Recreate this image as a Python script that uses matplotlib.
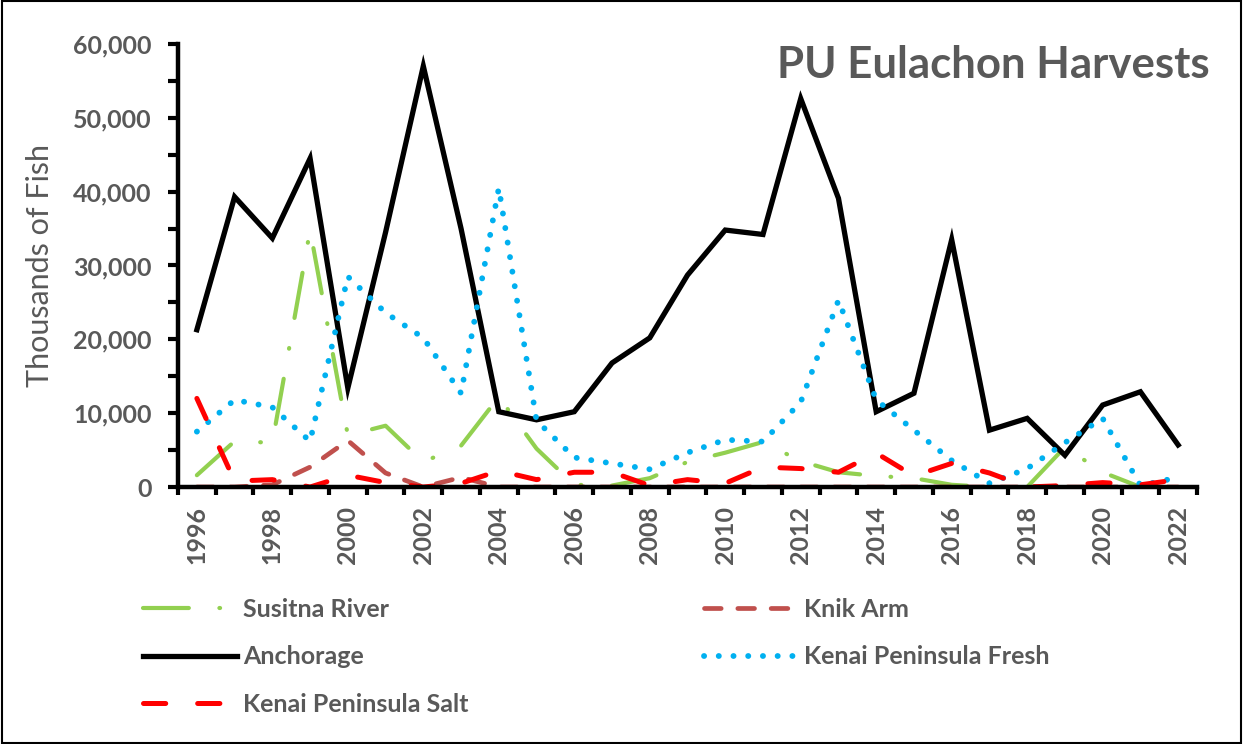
import matplotlib
matplotlib.use("Agg")
import matplotlib.pyplot as plt
import numpy as np
from matplotlib.patches import Rectangle

# data (fish, per year)
years = list(range(1996, 2023))

susitna = [1600, 6200, 6000, 34800, 7000, 8300, 3400, 5600, 12200, 5200,
           300, 200, 1200, 3400, 4650, 6100, 3500, 2000, 1500, 1200,
           300, 0, 0, 5400, 2000, 0, 0]
knik = [0, 0, 300, 2700, 6300, 1900, 0, 1300, 0, 0,
        0, 0, 0, 0, 0, 0, 0, 0, 0, 0,
        0, 0, 0, 0, 0, 0, 0]
anchorage = [21300, 39300, 33700, 44500, 13400, 34500, 57000, 35000, 10200, 9100,
             10200, 16800, 20200, 28700, 34800, 34200, 52600, 39100, 10200, 12700,
             33500, 7700, 9300, 4300, 11100, 12900, 5700]
kenai_fresh = [7500, 11800, 10800, 6200, 28500, 23600, 20200, 12700, 40500, 9000,
               4000, 3200, 2400, 4650, 6400, 6150, 11500, 25300, 11800, 7700,
               3600, 500, 2500, 6000, 9300, 200, 1300]
kenai_salt = [12000, 800, 1000, 0, 1600, 600, 0, 500, 2200, 1000,
              2000, 2000, 200, 1000, 500, 2700, 2500, 2000, 4600, 1500,
              3200, 1900, 0, 200, 600, 300, 1000]

gray = "#595959"
plt.rcParams["font.family"] = ["Lato", "DejaVu Sans"]
plt.rcParams["lines.scale_dashes"] = False

fig = plt.figure(figsize=(12.43, 7.44), dpi=100)
ax = fig.add_axes([0.1432, 0.3454, 0.8198, 0.5955])

ax.plot(years, susitna, color="#92D050", lw=3.0, dash_capstyle="round",
        dashes=(33, 22, 0.5, 22), label="Susitna River")
ax.plot(years, knik, color="#C0504D", lw=3.4, dash_capstyle="round",
        dashes=(12, 12), label="Knik Arm")
ax.plot(years, anchorage, color="black", lw=3.8, solid_joinstyle="miter",
        label="Anchorage")
ax.plot(years, kenai_fresh, color="#00B0F0", lw=4.2, dash_capstyle="round",
        dashes=(0.1, 10.5), label="Kenai Peninsula Fresh")
ax.plot(years, kenai_salt, color="#FF0000", lw=3.6, dash_capstyle="round",
        dashes=(16, 23), label="Kenai Peninsula Salt")

ax.set_xlim(1995.5, 2022.5)
ax.set_ylim(0, 60000)

for side in ["top", "right"]:
    ax.spines[side].set_visible(False)
for side in ["left", "bottom"]:
    ax.spines[side].set_linewidth(3.2)
    ax.spines[side].set_color("black")

# x: tick marks on category edges, labels on every other year
ax.set_xticks(np.arange(1995.5, 2023, 1.0))
ax.set_xticklabels([])
ax.tick_params(axis="x", which="major", direction="out", length=6, width=3, color="black")
ax.set_xticks(years[::2], minor=True)
ax.set_xticklabels([str(y) for y in years[::2]], minor=True, rotation=90,
                   fontsize=18, fontweight="bold", color=gray)
ax.tick_params(axis="x", which="minor", length=0, pad=14)

ax.set_yticks(np.arange(0, 60001, 10000))
ax.set_yticklabels([f"{v:,}" for v in range(0, 60001, 10000)],
                   fontsize=18, fontweight="bold", color=gray)
ax.set_yticks(np.arange(5000, 60000, 10000), minor=True)
ax.tick_params(axis="y", which="both", direction="out", length=7, width=3, color="black", pad=12)

ax.set_ylabel("Thousands of Fish", fontsize=22, color=gray)
ax.yaxis.set_label_coords(-0.1217, 0.5)

fig.text(1210 / 1243, 1 - 78 / 744, "PU Eulachon Harvests", ha="right", va="baseline",
         fontsize=31.5, fontweight="bold", color=gray)

h, l = ax.get_legend_handles_labels()
order = [0, 2, 4, 1, 3]
fig.legend([h[i] for i in order], [l[i] for i in order], loc="upper left",
           bbox_to_anchor=(143 / 1243, 1 - 598 / 744), ncol=2, frameon=False,
           prop={"weight": "bold", "size": 18}, labelcolor=gray,
           handlelength=3.76, handletextpad=0.24, columnspacing=9.4,
           labelspacing=0.98, borderpad=0, borderaxespad=0)

fig.patches.append(Rectangle((0.002, 0.002), 0.996, 0.996, transform=fig.transFigure,
                             fill=False, edgecolor="black", lw=1.5))

fig.savefig("out.png", dpi=100)
